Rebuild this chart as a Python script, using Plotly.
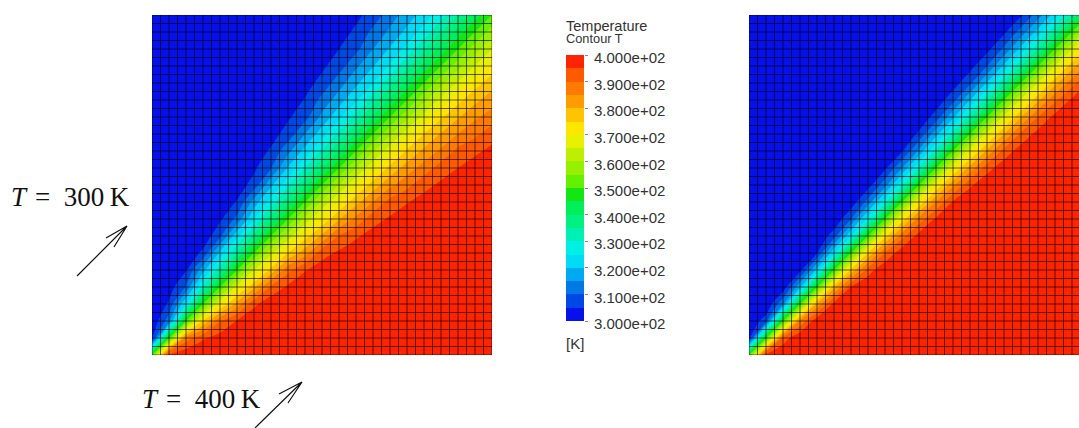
import numpy as np
import plotly.graph_objects as go

W, H = 1079, 428

band_colors = ["#0510ea", "#0048e6", "#0078e6", "#00aaf0", "#00dcf5", "#00f0e6", "#00f0b4", "#00f082",
               "#00ee5a", "#14e614", "#64f000", "#96f000", "#beef00", "#e6f000", "#ffe600", "#ffc400",
               "#ff9c00", "#ff7a00", "#ff5a00", "#ff2400"]
band_mids = [302.5 + 5 * i for i in range(20)]
tick_values = [300, 310, 320, 330, 340, 350, 360, 370, 380, 390, 400]
tick_labels = ["3.000e+02", "3.100e+02", "3.200e+02", "3.300e+02", "3.400e+02", "3.500e+02",
               "3.600e+02", "3.700e+02", "3.800e+02", "3.900e+02", "4.000e+02"]

grid_nodes = [0, .05, .1, .15, .2, .25, .3, .35, .4, .45, .5, .55, .6, .65, .7, .75, .8, .85, .9, .95, 1]

left_T = [
    [350, 398.8, 399.6, 399.8, 400, 400, 400, 400, 400, 400, 400, 400, 400, 400, 400, 400, 400, 400, 400, 400, 400],
    [301.2, 350, 387, 394.2, 397.5, 399.7, 400, 400, 400, 400, 400, 400, 400, 400, 400, 400, 400, 400, 400, 400, 400],
    [300.4, 313, 350, 375, 389.5, 395.5, 399, 399.8, 400, 400, 400, 400, 400, 400, 400, 400, 400, 400, 400, 400, 400],
    [300.2, 305.8, 325, 350, 369.4, 382.1, 393.8, 398.5, 399.6, 399.9, 400, 400, 400, 400, 400, 400, 400, 400, 400, 400, 400],
    [300, 302.5, 310.5, 330.6, 350, 367, 378.8, 391, 396, 398.4, 399.6, 399.9, 400, 400, 400, 400, 400, 400, 400, 400, 400],
    [300, 300.3, 304.5, 317.9, 333, 350, 365, 376.5, 388.5, 394.6, 397.6, 398.8, 399.6, 399.9, 400, 400, 400, 400, 400, 400, 400],
    [300, 300, 301, 306.2, 321.2, 335, 350, 363.4, 375, 383, 393, 396, 397.8, 399, 399.7, 400, 400, 400, 400, 400, 400],
    [300, 300, 300.2, 301.5, 309, 323.5, 336.6, 350, 362, 372.8, 381, 390.2, 394.3, 396.9, 398, 399.5, 399.8, 400, 400, 400, 400],
    [300, 300, 300, 300.4, 304, 311.5, 325, 338, 350, 361.5, 371, 379.5, 386.4, 393.1, 395.7, 398.2, 398.8, 399.6, 399.8, 400, 400],
    [300, 300, 300, 300.1, 301.6, 305.4, 317, 327.2, 338.5, 350, 361, 370.1, 378.3, 385, 392, 394.6, 397, 397.8, 399.3, 399.7, 399.9],
    [300, 300, 300, 300, 300.4, 302.4, 307, 319, 329, 339, 350, 360.3, 369.4, 377.3, 383.6, 388.5, 393.4, 396, 398, 398.5, 399.6],
    [300, 300, 300, 300, 300.1, 301.2, 304, 309.8, 320.5, 329.9, 339.7, 350, 360, 368.7, 376.4, 382.3, 387.2, 392.4, 395, 397.5, 397.7],
    [300, 300, 300, 300, 300, 300.4, 302.2, 305.7, 313.6, 321.7, 330.6, 340, 350, 359.5, 368, 375.7, 381.2, 386, 391.4, 393.9, 396.4],
    [300, 300, 300, 300, 300, 300.1, 301, 303.1, 306.9, 315, 322.7, 331.3, 340.5, 350, 359.2, 367.4, 375, 380.3, 385, 388.8, 392.8],
    [300, 300, 300, 300, 300, 300, 300.3, 302, 304.3, 308, 316.4, 323.6, 332, 340.8, 350, 358.8, 366.9, 374.2, 379.4, 384, 387.4],
    [300, 300, 300, 300, 300, 300, 300, 300.5, 301.8, 305.4, 311.5, 317.7, 324.3, 332.6, 341.2, 350, 358.6, 366.3, 373.5, 378.7, 382.6],
    [300, 300, 300, 300, 300, 300, 300, 300.2, 301.2, 303, 306.6, 312.8, 318.8, 325, 333.1, 341.4, 350, 358.2, 365.8, 372.8, 377.9],
    [300, 300, 300, 300, 300, 300, 300, 300, 300.4, 302.2, 304, 307.6, 314, 319.7, 325.8, 333.7, 341.8, 350, 358, 365.3, 372.1],
    [300, 300, 300, 300, 300, 300, 300, 300, 300.2, 300.7, 302, 305, 308.6, 315, 320.6, 326.5, 334.2, 342, 350, 357.7, 365],
    [300, 300, 300, 300, 300, 300, 300, 300, 300, 300.3, 301.5, 302.5, 306.1, 311.2, 316, 321.3, 327.2, 334.7, 342.3, 350, 357.5],
    [300, 300, 300, 300, 300, 300, 300, 300, 300, 300.1, 300.4, 302.3, 303.6, 307.2, 312.6, 317.4, 322.1, 327.9, 335, 342.5, 350],
]

right_T = [
    [350, 398.8, 400, 400, 400, 400, 400, 400, 400, 400, 400, 400, 400, 400, 400, 400, 400, 400, 400, 400, 400],
    [301.2, 350, 392, 400, 400, 400, 400, 400, 400, 400, 400, 400, 400, 400, 400, 400, 400, 400, 400, 400, 400],
    [300, 308, 350, 385.5, 398.8, 400, 400, 400, 400, 400, 400, 400, 400, 400, 400, 400, 400, 400, 400, 400, 400],
    [300, 300, 314.5, 350, 381, 396.7, 400, 400, 400, 400, 400, 400, 400, 400, 400, 400, 400, 400, 400, 400, 400],
    [300, 300, 301.2, 319, 350, 378.5, 395, 399.7, 400, 400, 400, 400, 400, 400, 400, 400, 400, 400, 400, 400, 400],
    [300, 300, 300, 303.3, 321.5, 350, 376, 392.3, 399.5, 400, 400, 400, 400, 400, 400, 400, 400, 400, 400, 400, 400],
    [300, 300, 300, 300, 305, 324, 350, 375, 390, 398.3, 400, 400, 400, 400, 400, 400, 400, 400, 400, 400, 400],
    [300, 300, 300, 300, 300.3, 307.7, 325, 350, 373.3, 388, 397.3, 400, 400, 400, 400, 400, 400, 400, 400, 400, 400],
    [300, 300, 300, 300, 300, 300.5, 310, 326.7, 350, 372, 387, 396, 399.8, 400, 400, 400, 400, 400, 400, 400, 400],
    [300, 300, 300, 300, 300, 300, 301.7, 312, 328, 350, 371, 385, 395.5, 399.5, 400, 400, 400, 400, 400, 400, 400],
    [300, 300, 300, 300, 300, 300, 300, 302.7, 313, 329, 350, 370, 384, 394, 398.8, 400, 400, 400, 400, 400, 400],
    [300, 300, 300, 300, 300, 300, 300, 300, 304, 315, 330, 350, 369, 382, 393, 398, 400, 400, 400, 400, 400],
    [300, 300, 300, 300, 300, 300, 300, 300, 300.2, 304.5, 316, 331, 350, 368, 381, 392, 397.5, 400, 400, 400, 400],
    [300, 300, 300, 300, 300, 300, 300, 300, 300, 300.5, 306, 318, 332, 350, 367, 380, 391, 397, 399.7, 400, 400],
    [300, 300, 300, 300, 300, 300, 300, 300, 300, 300, 301.2, 307, 319, 333, 350, 366.5, 379.5, 390, 396.7, 399.6, 400],
    [300, 300, 300, 300, 300, 300, 300, 300, 300, 300, 300, 302, 308, 320, 333.5, 350, 366, 379, 389, 396, 399.5],
    [300, 300, 300, 300, 300, 300, 300, 300, 300, 300, 300, 300, 302.5, 309, 320.5, 334, 350, 365.5, 378.5, 388, 395.7],
    [300, 300, 300, 300, 300, 300, 300, 300, 300, 300, 300, 300, 300, 303, 310, 321, 334.5, 350, 365.5, 378, 387.5],
    [300, 300, 300, 300, 300, 300, 300, 300, 300, 300, 300, 300, 300, 300.3, 303.3, 311, 321.5, 334.5, 350, 365, 377.5],
    [300, 300, 300, 300, 300, 300, 300, 300, 300, 300, 300, 300, 300, 300, 300.4, 304, 312, 322, 335, 350, 365],
    [300, 300, 300, 300, 300, 300, 300, 300, 300, 300, 300, 300, 300, 300, 300, 300.5, 304.3, 312.5, 322.5, 335, 350],
]

mesh_cells = 40

scale = []
for i, c in enumerate(band_colors):
    scale += [[i / 20, c], [(i + 1) / 20, c]]

def px(x):
    return x / W

def py(y):
    return 1 - y / H

def mesh():
    t = np.linspace(0, 1, mesh_cells + 1)
    xs, ys = [], []
    for v in t:
        xs += [v, v, None, 0, 1, None]
        ys += [0, 1, None, v, v, None]
    return xs, ys

fig = go.Figure()
mx, my = mesh()
for T, xa, ya in [(left_T, "x", "y"), (right_T, "x2", "y2")]:
    fig.add_trace(go.Contour(x=grid_nodes, y=grid_nodes, z=T, xaxis=xa, yaxis=ya, colorscale=scale, showscale=False,
                             autocontour=False, zmin=300, zmax=400,
                             contours=dict(start=305, end=395, size=5, coloring="fill", showlines=False),
                             line=dict(width=0), hoverinfo="skip"))
    fig.add_trace(go.Scatter(x=mx, y=my, xaxis=xa, yaxis=ya, mode="lines", showlegend=False,
                             line=dict(color="rgba(0,0,0,0.62)", width=1), hoverinfo="skip"))

fig.add_trace(go.Heatmap(x=[0], y=band_mids, z=[[m] for m in band_mids], xaxis="x3", yaxis="y3",
                         colorscale=scale, zmin=300, zmax=400, showscale=False, hoverinfo="skip"))

hidden = dict(visible=False, fixedrange=True)
fig.update_layout(
    width=W, height=H, margin=dict(l=0, r=0, t=0, b=0, autoexpand=False), paper_bgcolor="white", plot_bgcolor="white",
    showlegend=False, font=dict(family="Liberation Sans", color="#333333"),
    xaxis=dict(domain=[px(152), px(492)], range=[0, 1], **hidden),
    yaxis=dict(domain=[py(355), py(15)], range=[0, 1], **hidden),
    xaxis2=dict(domain=[px(749), 1], range=[0, 330 / 340], **hidden),
    yaxis2=dict(domain=[py(355), py(15)], range=[0, 1], **hidden),
    xaxis3=dict(domain=[px(566), px(584)], range=[-0.5, 0.5], **hidden),
    yaxis3=dict(domain=[py(321), py(55)], range=[300, 400], side="right", anchor="x3", showgrid=False, zeroline=False,
                tickmode="array", tickvals=tick_values, ticktext=tick_labels, ticks="outside", ticklen=3,
                tickcolor="#888888", tickfont=dict(size=15, color="#333333"), ticklabelshift=3,
                ticklabelstandoff=3, fixedrange=True),
)

def note(text, x, y, size, family="Liberation Sans", color="#333333"):
    fig.add_annotation(text=text, x=px(x), y=py(y), xref="paper", yref="paper", xanchor="left", yanchor="middle",
                       showarrow=False, font=dict(size=size, family=family, color=color))

note("Temperature", 564, 26, 14.5)
note("Contour T", 564, 39, 12.8)
note("[K]", 564, 343, 15)
note("<i>T</i>\u2004=\u2002300\u2009K", 9, 197, 27, "Liberation Serif", "#111111")
note("<i>T</i>\u2004=\u2002400\u2009K", 140, 399, 27, "Liberation Serif", "#111111")

def arrow(tail, tip, b1, b2):
    p = lambda q: f"{px(q[0]):.5f} {py(q[1]):.5f}"
    fig.add_shape(type="path", xref="paper", yref="paper", line=dict(color="#111111", width=1.2),
                  path=f"M {p(tail)} L {p(tip)} M {p(b1)} L {p(tip)} L {p(b2)}")

arrow((77, 276), (127, 226), (106, 238), (114, 247))
arrow((255, 428), (302, 382), (279, 394), (288, 403))

fig.write_html("out.html", config=dict(displayModeBar=False),
               post_script="document.body.style.margin='0';document.body.style.overflow='hidden';")
